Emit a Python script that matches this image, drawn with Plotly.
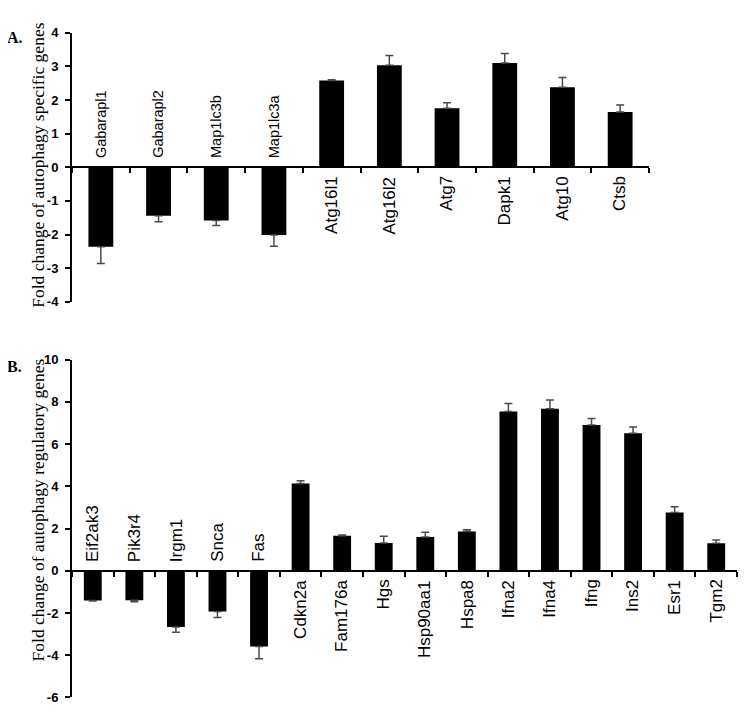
import plotly.graph_objects as go

# ---------------- data ----------------
genes_a = ["Gabarapl1", "Gabarapl2", "Map1lc3b", "Map1lc3a", "Atg16l1",
           "Atg16l2", "Atg7", "Dapk1", "Atg10", "Ctsb"]
fold_a = [-2.36, -1.44, -1.58, -2.01, 2.58, 3.03, 1.75, 3.10, 2.38, 1.64]
err_a = [0.50, 0.18, 0.15, 0.34, 0.02, 0.29, 0.17, 0.28, 0.29, 0.21]

genes_b = ["Eif2ak3", "Pik3r4", "Irgm1", "Snca", "Fas", "Cdkn2a", "Fam176a",
           "Hgs", "Hsp90aa1", "Hspa8", "Ifna2", "Ifna4", "Ifng", "Ins2",
           "Esr1", "Tgm2"]
fold_b = [-1.41, -1.39, -2.66, -1.93, -3.59, 4.13, 1.66, 1.32, 1.60, 1.86,
          7.55, 7.67, 6.91, 6.51, 2.76, 1.30]
err_b = [0.02, 0.07, 0.25, 0.28, 0.57, 0.14, 0.03, 0.32, 0.23, 0.08,
         0.37, 0.42, 0.30, 0.30, 0.27, 0.16]

yticks_a = [-4, -3, -2, -1, 0, 1, 2, 3, 4]
yticktext_a = ["-4", "-3", "-2", "-1", "0", "1", "2", "3", "4"]
yrange_a = [-4, 4]
yticks_b = [-6, -4, -2, 0, 2, 4, 6, 8, 10]
yticktext_b = ["-6", "-4", "-2", "0", "2", "4", "6", "8", "10"]
yrange_b = [-6, 10]

title_a = "Fold change of autophagy specific genes"
title_b = "Fold change of autophagy regulatory genes"

# ---------------- layout helpers ----------------
W, H = 750, 720
OFF = 8  # page body margin in the browser


def px_x(p):
    return (p - OFF) / W


def px_y(p):
    return 1 - (p - OFF) / H


dom_x_a = [px_x(72), px_x(649)]
dom_y_a = [px_y(301), px_y(26)]
dom_x_b = [px_x(72), px_x(737)]
dom_y_b = [px_y(705), px_y(360)]

SANS = "Arial, Liberation Sans, sans-serif"
SERIF = "Times New Roman, Liberation Serif, serif"
ERR_COLOR = "#4a4a4a"


def zero_pos(dom, rng):
    return dom[0] + (0 - rng[0]) / (rng[1] - rng[0]) * (dom[1] - dom[0])


def err_arrays(vals, errs):
    up = [e if v >= 0 else 0 for v, e in zip(vals, errs)]
    down = [e if v < 0 else 0 for v, e in zip(vals, errs)]
    return up, down


fig = go.Figure()

up_a, dn_a = err_arrays(fold_a, err_a)
fig.add_trace(go.Bar(
    x=genes_a, y=fold_a, xaxis="x", yaxis="y", width=0.43,
    marker=dict(color="black", line=dict(width=0)),
    error_y=dict(type="data", symmetric=False, array=up_a, arrayminus=dn_a,
                 color=ERR_COLOR, thickness=1.5, width=4),
    showlegend=False,
))

up_b, dn_b = err_arrays(fold_b, err_b)
fig.add_trace(go.Bar(
    x=genes_b, y=fold_b, xaxis="x2", yaxis="y2", width=0.43,
    marker=dict(color="black", line=dict(width=0)),
    error_y=dict(type="data", symmetric=False, array=up_b, arrayminus=dn_b,
                 color=ERR_COLOR, thickness=1.5, width=4),
    showlegend=False,
))

xaxis_common = dict(
    showticklabels=False, showgrid=False, zeroline=False,
    showline=True, linecolor="black", linewidth=2,
    ticks="outside", ticklen=5, tickwidth=2, tickcolor="black",
    tickson="boundaries", anchor="free", type="category",
)
yaxis_common = dict(
    showgrid=False, zeroline=False, showline=True, linecolor="black",
    linewidth=2, ticks="outside", ticklen=5, tickwidth=2, tickcolor="black",
    tickfont=dict(family=SANS, size=13, color="black", weight="bold"),
    ticklabelstandoff=4,
)

fig.update_layout(
    width=W, height=H,
    margin=dict(l=0, r=0, t=0, b=0),
    paper_bgcolor="white", plot_bgcolor="white",
    xaxis=dict(domain=dom_x_a, range=[-0.5, len(genes_a) - 0.5],
               position=zero_pos(dom_y_a, yrange_a), **xaxis_common),
    yaxis=dict(domain=dom_y_a, range=yrange_a, anchor="x",
               tickvals=yticks_a, ticktext=yticktext_a, **yaxis_common),
    xaxis2=dict(domain=dom_x_b, range=[-0.5, len(genes_b) - 0.5],
                position=zero_pos(dom_y_b, yrange_b), **xaxis_common),
    yaxis2=dict(domain=dom_y_b, range=yrange_b, anchor="x2",
                tickvals=yticks_b, ticktext=yticktext_b, **yaxis_common),
)

annotations = []
for panel, genes, vals, xr, yr in [("A", genes_a, fold_a, "x", "y"),
                                   ("B", genes_b, fold_b, "x2", "y2")]:
    for g, v in zip(genes, vals):
        neg = v < 0
        size = 14.5 if (panel == "A" and neg) else 17
        annotations.append(dict(
            x=g, y=0, xref=xr, yref=yr, text=g, textangle=-90,
            showarrow=False, xanchor="center",
            yanchor="bottom" if neg else "top",
            yshift=7 if neg else -7,
            font=dict(family=SANS, size=size, color="black"),
        ))

annotations += [
    dict(x=px_x(38), y=px_y(162), xref="paper", yref="paper", text=title_a,
         textangle=-90, showarrow=False, xanchor="center", yanchor="middle",
         font=dict(family=SERIF, size=17.5, color="black")),
    dict(x=px_x(38), y=px_y(514), xref="paper", yref="paper", text=title_b,
         textangle=-90, showarrow=False, xanchor="center", yanchor="middle",
         font=dict(family=SERIF, size=17.5, color="black")),
    dict(x=px_x(5), y=px_y(31), xref="paper", yref="paper", text="<b>A.</b>",
         showarrow=False, xanchor="left", yanchor="middle",
         font=dict(family=SERIF, size=16, color="black")),
    dict(x=px_x(5), y=px_y(367), xref="paper", yref="paper", text="<b>B.</b>",
         showarrow=False, xanchor="left", yanchor="middle",
         font=dict(family=SERIF, size=16, color="black")),
]
fig.update_layout(annotations=annotations)

fig.write_html("out.html")
